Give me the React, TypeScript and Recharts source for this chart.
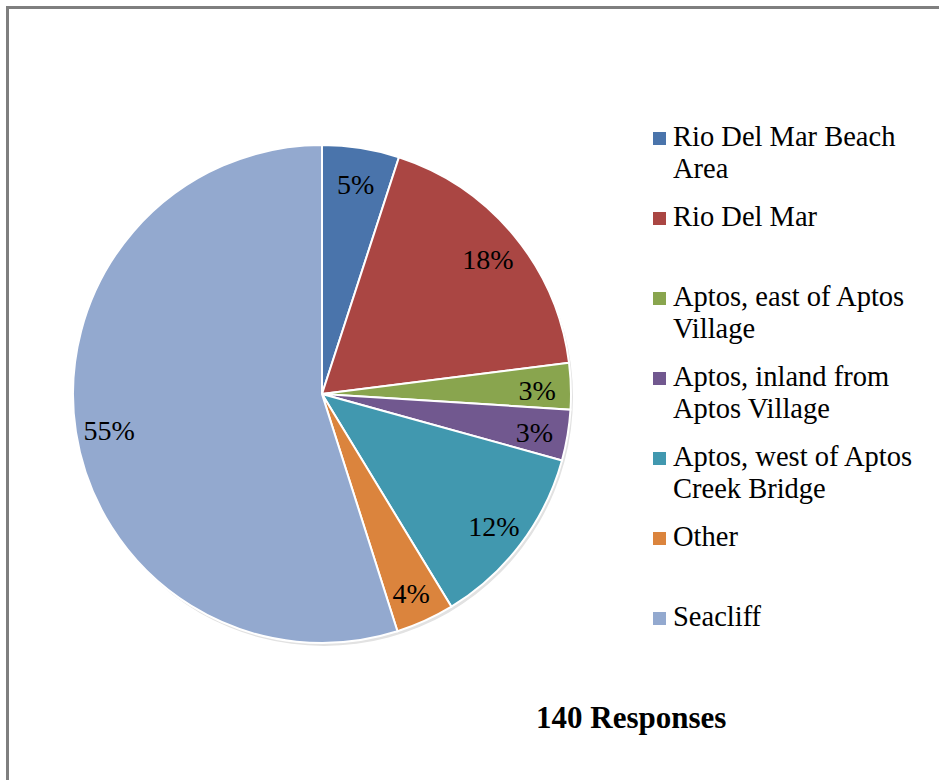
import React from 'react';
import { PieChart, Pie, Cell, Legend } from 'recharts';

const categories = [
  'Rio Del Mar Beach Area',
  'Rio Del Mar',
  'Aptos, east of Aptos Village',
  'Aptos, inland from Aptos Village',
  'Aptos, west of Aptos Creek Bridge',
  'Other',
  'Seacliff',
];
const shares = [5, 18, 3, 3.3, 12, 3.8, 54.9];
const legendLines = [
  ['Rio Del Mar Beach', 'Area'],
  ['Rio Del Mar'],
  ['Aptos, east of Aptos', 'Village'],
  ['Aptos, inland from', 'Aptos Village'],
  ['Aptos, west of Aptos', 'Creek Bridge'],
  ['Other'],
  ['Seacliff'],
];
const colors = ['#4a74ab', '#aa4643', '#89a54e', '#71588f', '#4198af', '#db843d', '#93a9cf'];
const title = '140 Responses';

const data = categories.map((name, i) => ({ name, value: shares[i] }));
const shadowData = [{ name: 'shadow', value: shares.reduce((a, b) => a + b, 0) }];

const FONT = '"Liberation Serif", "Times New Roman", Times, serif';
const RAD = Math.PI / 180;

const renderLabel = (props: any) => {
  const { cx, cy, midAngle, outerRadius, percent } = props;
  const r = outerRadius * 0.865;
  const x = cx + r * Math.cos(-midAngle * RAD);
  const y = cy + r * Math.sin(-midAngle * RAD) + 3;
  return (
    <text
      x={x}
      y={y}
      textAnchor="middle"
      dominantBaseline="central"
      fill="#000"
      fontSize={28}
      fontFamily={FONT}
      style={{ fontFamily: FONT, fontSize: 28 }}
    >
      {Math.round(percent * 100) + '%'}
    </text>
  );
};

const renderLegend = () => (
  <div style={{ fontFamily: FONT, fontSize: 28.5, lineHeight: '32px', color: '#000' }}>
    {legendLines.map((lines, i) => (
      <div key={i} style={{ position: 'relative', height: 80, paddingLeft: 20 }}>
        <div style={{ position: 'absolute', left: 0, top: 11, width: 13, height: 13, background: colors[i] }} />
        {lines.map((l, j) => (
          <div key={j} style={{ whiteSpace: 'nowrap' }}>{l}</div>
        ))}
      </div>
    ))}
  </div>
);

export default function App() {
  return (
    <div style={{ position: 'absolute', left: 0, top: 0, width: 939, height: 780, background: '#fff', overflow: 'hidden', fontFamily: FONT }}>
      <div style={{ position: 'absolute', left: 6, top: 6, width: 1000, height: 1000, borderLeft: '3px solid #7f7f7f', borderTop: '3px solid #7f7f7f' }} />
      <div style={{ position: 'absolute', left: 0, top: 0 }}>
        <PieChart width={939} height={780} margin={{ top: 0, right: 0, bottom: 0, left: 0 }} style={{ fontFamily: FONT }}>
          <Pie
            data={shadowData}
            dataKey="value"
            cx={324}
            cy={397}
            outerRadius={249}
            startAngle={90}
            endAngle={-270}
            stroke="none"
            fill="#e2e2e2"
            isAnimationActive={false}
            legendType="none"
          />
          <Pie
            data={data}
            dataKey="value"
            nameKey="name"
            cx={322}
            cy={394}
            outerRadius={249}
            startAngle={90}
            endAngle={-270}
            stroke="#fff"
            strokeWidth={2}
            label={renderLabel}
            labelLine={false}
            isAnimationActive={false}
          >
            {data.map((d, i) => (
              <Cell key={d.name} fill={colors[i]} />
            ))}
          </Pie>
          <Legend
            content={renderLegend}
            wrapperStyle={{ position: 'absolute', left: 653, top: 121, width: 286, right: 'auto', bottom: 'auto' }}
          />
        </PieChart>
      </div>
      <div style={{ position: 'absolute', left: 536, top: 703, fontFamily: FONT, fontSize: 31, lineHeight: '30px', fontWeight: 'bold', color: '#000', whiteSpace: 'nowrap' }}>
        {title}
      </div>
    </div>
  );
}
